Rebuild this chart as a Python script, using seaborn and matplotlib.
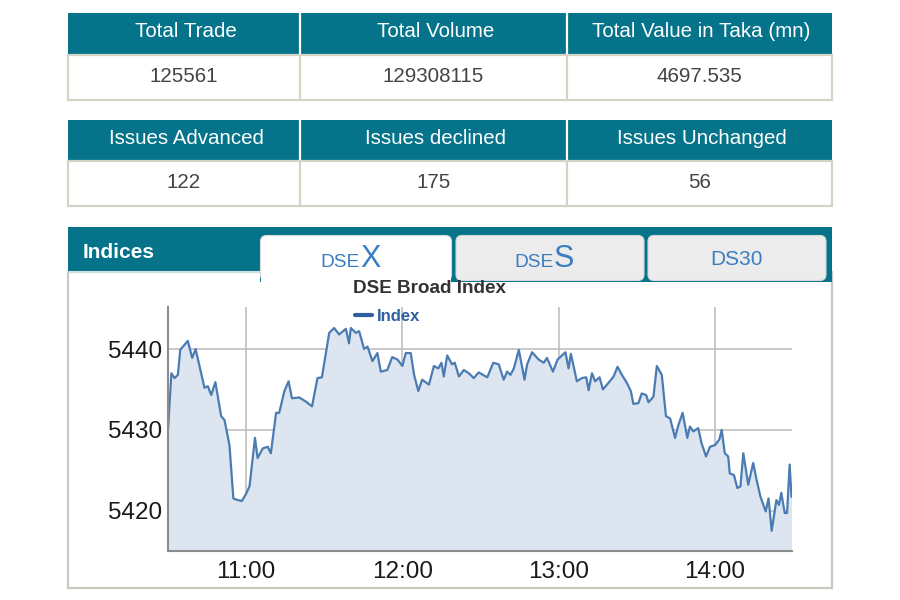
import matplotlib
matplotlib.use("Agg")
import matplotlib.pyplot as plt
import matplotlib.dates as mdates
from matplotlib.patches import Rectangle, FancyBboxPatch
import seaborn as sns
import pandas as pd

# ---------------- data ----------------
summary_headers = ["Total Trade", "Total Volume", "Total Value in Taka (mn)"]
summary_values = ["125561", "129308115", "4697.535"]
issues_headers = ["Issues Advanced", "Issues declined", "Issues Unchanged"]
issues_values = ["122", "175", "56"]

chart_title = "DSE Broad Index"
series_name = "Index"
tab_labels = [("DSE", "X"), ("DSE", "S"), ("DS30", "")]
y_ticks = [5420, 5430, 5440]

# minutes after 10:30
minutes = [0, 1.3, 2.5, 3.8, 4.7, 7.6, 9.3, 10.6, 12.1, 14.0,
           15.3, 16.6, 18.2, 20.4, 21.7, 23.6, 25.1, 26.8, 28.4, 30.0,
           31.3, 33.4, 34.4, 36.4, 38.3, 39.5, 41.5, 42.7, 44.7, 46.3,
           47.6, 50.4, 52.9, 55.3, 57.4, 59.1, 61.9, 63.8, 65.7, 68.3,
           69.5, 70.2, 72.1, 73.4, 75.3, 76.6, 78.5, 80.4, 81.7, 84.2,
           86.1, 88.1, 90.0, 91.3, 93.2, 94.5, 96.1, 97.6, 100.2, 102.1,
           103.8, 105.0, 105.9, 107.2, 109.1, 110.1, 111.7, 113.6, 115.5, 117.4,
           119.3, 122.6, 124.9, 127.0, 128.9, 130.2, 131.5, 132.8, 134.7, 136.9,
           137.9, 139.8, 142.3, 144.3, 145.5, 147.8, 149.6, 152.6, 153.8, 154.7,
           157.0, 158.9, 160.6, 161.5, 162.8, 164.0, 165.7, 167.0, 169.1, 171.1,
           172.6, 174.3, 176.2, 177.7, 178.7, 180.6, 181.9, 183.6, 184.5, 186.4,
           187.7, 189.6, 191.2, 192.8, 194.7, 196.0, 197.6, 199.4, 200.4, 201.7,
           203.6, 204.9, 206.6, 208.1, 210.0, 211.7, 212.6, 213.8, 215.1, 215.7,
           217.3, 218.6, 219.8, 220.9, 222.8, 224.7, 226.0, 227.5, 229.5, 230.6,
           231.8, 233.6, 234.6, 235.5, 236.8, 237.7, 238.7, 239.4]
index_values = [5430.0, 5437.0, 5436.4, 5436.8, 5439.9, 5441.0, 5438.9, 5440.0, 5437.9, 5435.2,
                5435.4, 5434.3, 5435.9, 5431.7, 5431.2, 5428.1, 5421.5, 5421.3, 5421.2, 5422.1,
                5423.0, 5429.0, 5426.5, 5427.7, 5427.9, 5427.1, 5432.1, 5432.1, 5434.8, 5436.0,
                5433.9, 5434.0, 5433.5, 5432.9, 5436.4, 5436.5, 5442.0, 5442.6, 5441.8, 5442.5,
                5440.7, 5442.6, 5442.0, 5442.2, 5440.0, 5440.3, 5438.5, 5439.5, 5437.2, 5437.4,
                5439.0, 5438.7, 5437.9, 5439.5, 5439.5, 5436.8, 5434.8, 5436.2, 5435.6, 5437.9,
                5437.6, 5438.3, 5436.6, 5439.2, 5438.1, 5438.3, 5436.6, 5437.4, 5437.0, 5436.4,
                5437.1, 5436.5, 5438.3, 5438.1, 5436.2, 5437.2, 5436.8, 5437.6, 5439.9, 5436.2,
                5438.1, 5439.6, 5438.7, 5438.3, 5438.9, 5437.2, 5438.7, 5439.6, 5437.6, 5439.4,
                5436.0, 5436.4, 5436.5, 5434.9, 5437.0, 5436.0, 5436.5, 5435.0, 5435.8, 5436.6,
                5437.8, 5436.8, 5435.8, 5434.8, 5433.2, 5433.3, 5434.5, 5434.3, 5433.4, 5434.1,
                5437.9, 5436.8, 5431.7, 5431.4, 5429.0, 5430.6, 5432.1, 5429.0, 5430.4, 5429.8,
                5430.2, 5428.3, 5426.7, 5427.9, 5428.1, 5428.8, 5430.0, 5427.1, 5426.7, 5424.6,
                5424.4, 5422.8, 5423.0, 5427.1, 5423.2, 5425.9, 5423.8, 5421.7, 5419.9, 5421.5,
                5417.5, 5421.3, 5420.7, 5422.2, 5419.7, 5419.7, 5425.7, 5421.7]

# ---------------- style ----------------
TEAL = "#05748b"
BORDER = "#d4d4c6"
TAB_BLUE = "#3a7dc0"
LINE_BLUE = "#4a7cb3"
FILL_BLUE = "#dde6f0"

sns.set_style("white")
plt.rcParams["font.family"] = ["Liberation Sans", "DejaVu Sans"]

fig = plt.figure(figsize=(9, 6), dpi=100)
fig.patch.set_facecolor("white")

# background / layout axes in pixel units
bg = fig.add_axes([0, 0, 1, 1], zorder=0)
bg.set_xlim(0, 900)
bg.set_ylim(600, 0)
bg.axis("off")

col_edges = [68, 300, 567, 832]
col_centers = [(col_edges[i] + col_edges[i + 1]) / 2 for i in range(3)]


def draw_table(y0, ym, y1, headers, values):
    bg.add_patch(Rectangle((col_edges[0], y0), col_edges[-1] - col_edges[0], ym - y0,
                           facecolor=TEAL, edgecolor="none"))
    bg.add_patch(Rectangle((col_edges[0], ym), col_edges[-1] - col_edges[0], y1 - ym,
                           facecolor="white", edgecolor=BORDER, lw=1.6))
    for x in col_edges[1:-1]:
        bg.plot([x, x], [y0, ym], color="white", lw=1.6)
        bg.plot([x, x], [ym, y1], color=BORDER, lw=1.6)
    for cx, h, v in zip(col_centers, headers, values):
        bg.text(cx + 2, (y0 + ym) / 2 - 2.5, h, color="white", fontsize=14.8,
                ha="center", va="center")
        bg.text(cx, (ym + y1) / 2 - 1, v, color="#444444", fontsize=14.8,
                ha="center", va="center")


draw_table(13, 55, 100, summary_headers, summary_values)
draw_table(120, 161, 206, issues_headers, issues_values)

# Indices panel
bg.add_patch(Rectangle((68, 272), 764, 316, facecolor="white", edgecolor="#c9c9c2", lw=1.6))
bg.add_patch(Rectangle((68, 227), 764, 45, facecolor=TEAL, edgecolor="none"))
bg.plot([69, 260], [272, 272], color="#cfe0e4", lw=1.5)
bg.add_patch(Rectangle((260, 265), 572, 17, facecolor=TEAL, edgecolor="none"))
bg.text(83, 257.5, "Indices", color="white", fontsize=15, fontweight="bold",
        ha="left", va="baseline")

tabs = [(260.5, 451.5, "white"), (456, 644, "#ececec"), (648, 826, "#ececec")]
for (x0, x1, fc), (small, big) in zip(tabs, tab_labels):
    bg.add_patch(FancyBboxPatch((x0, 235.5), x1 - x0, 45,
                                boxstyle="round,pad=0,rounding_size=6",
                                facecolor=fc, edgecolor="#d8d8d8", lw=0.8))
    cx = (x0 + x1) / 2
    if big:
        bg.text(cx + 4, 266.7, small, color=TAB_BLUE, fontsize=13.8,
                ha="right", va="baseline")
        bg.text(cx + 4, 266.7, big, color=TAB_BLUE, fontsize=22,
                ha="left", va="baseline")
    else:
        bg.text(cx - 1, 265, small, color=TAB_BLUE, fontsize=15,
                ha="center", va="baseline")
# merge active tab with panel
bg.add_patch(Rectangle((261.3, 270), 189.5, 16, facecolor="white", edgecolor="none"))

bg.text(353, 292.7, chart_title, color="#333333", fontsize=13.6, fontweight="bold",
        ha="left", va="baseline")

# ---------------- chart ----------------
base = pd.Timestamp("2024-01-01 10:30")
df = pd.DataFrame({
    "time": base + pd.to_timedelta(minutes, unit="m"),
    "value": index_values,
})

left, right, top, bottom = 168, 792, 307, 551
ax = fig.add_axes([left / 900, 1 - bottom / 600, (right - left) / 900, (bottom - top) / 600],
                  zorder=1)
ax.patch.set_alpha(0)

ymin, ymax = 5415.0, 5445.2
ax.fill_between(df["time"], df["value"], ymin, color=FILL_BLUE, lw=0, zorder=1)
sns.lineplot(data=df, x="time", y="value", ax=ax, color=LINE_BLUE, lw=1.6,
             label=series_name, zorder=3)

ax.set_ylim(ymin, ymax)
ax.set_xlim(base, base + pd.Timedelta(minutes=239.6))
ax.set_yticks(y_ticks)
ax.xaxis.set_major_locator(mdates.HourLocator())
ax.xaxis.set_major_formatter(mdates.DateFormatter("%H:%M"))
ax.set_xlabel("")
ax.set_ylabel("")
ax.grid(True, color="#c0c0c0", lw=1.2, zorder=0)
ax.set_axisbelow(True)
for s in ["top", "right"]:
    ax.spines[s].set_visible(False)
for s in ["left", "bottom"]:
    ax.spines[s].set_color("#8c8c8c")
    ax.spines[s].set_linewidth(1.5)
    ax.spines[s].set_zorder(4)
ax.tick_params(axis="both", length=0, labelsize=17.5, labelcolor="#1a1a1a")
ax.tick_params(axis="y", pad=4)
ax.tick_params(axis="x", pad=7)

leg = ax.legend(loc="center left", bbox_to_anchor=(355 / 900, 1 - 316.5 / 600),
                bbox_transform=fig.transFigure, frameon=False,
                handlelength=1.02, handletextpad=0.3, borderpad=0, borderaxespad=0,
                prop={"weight": "bold", "size": 12})
for t in leg.get_texts():
    t.set_color("#2f5f9f")
for ln in leg.get_lines():
    ln.set_color("#2f5f9f")
    ln.set_linewidth(3)

fig.savefig("out.png", dpi=100, facecolor="white")
